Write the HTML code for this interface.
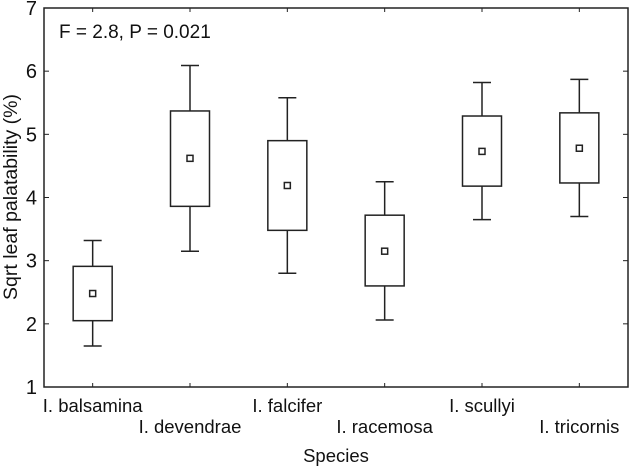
<!DOCTYPE html>
<html><head><meta charset="utf-8"><style>
html,body{margin:0;padding:0;background:#fff;}
svg{display:block;font-family:"Liberation Sans",Arial,sans-serif;}
</style></head><body>
<svg id="chart" width="630" height="467">
<rect x="0" y="0" width="630" height="467" fill="#fff"/>
<g id="plot"></g>
</svg>
<script>
const categories=["I. balsamina","I. devendrae","I. falcifer","I. racemosa","I. scullyi","I. tricornis"];
const whiskerLow=[1.65,3.15,2.80,2.06,3.65,3.70];
const whiskerHigh=[3.32,6.09,5.58,4.25,5.82,5.87];
const boxLow=[2.05,3.86,3.48,2.60,4.18,4.23];
const boxHigh=[2.91,5.37,4.90,3.72,5.29,5.34];
const means=[2.48,4.62,4.19,3.15,4.73,4.78];
const yTicks=[1,2,3,4,5,6,7];

const L=44,R=628,T=8,B=387,yMin=1,yMax=7;
const band=(R-L)/categories.length;
const x=i=>L+band*(i+0.5);
const y=v=>B-(v-yMin)/(yMax-yMin)*(B-T);
const NS="http://www.w3.org/2000/svg";
const g=document.getElementById('plot');
function mk(tag,attrs,parent){const e=document.createElementNS(NS,tag);for(const k in attrs)e.setAttribute(k,attrs[k]);(parent||g).appendChild(e);return e;}

const frame=mk('rect',{x:L,y:T,width:R-L,height:B-T,fill:'none',stroke:'#222','stroke-width':1.5});



yTicks.forEach(t=>{
  const yy=y(t);
  const a=mk('line',{x1:L,x2:L+5,y1:yy,y2:yy,stroke:'#222','stroke-width':1});
  
  
  const b=mk('line',{x1:R-5,x2:R,y1:yy,y2:yy,stroke:'#222','stroke-width':1});
  
  
  const tx=mk('text',{x:37,y:yy+7,'text-anchor':'end','font-size':20,fill:'#111'});
  tx.textContent=t;
  
  
});

categories.forEach((c,i)=>{
  const xx=x(i);
  const tb=mk('line',{x1:xx,x2:xx,y1:B-4,y2:B,stroke:'#222','stroke-width':1});
  
  
  const tt=mk('line',{x1:xx,x2:xx,y1:T,y2:T+4,stroke:'#222','stroke-width':1});
  
  
  const lab=mk('text',{x:xx,y:i%2===0?412:433,'text-anchor':'middle','font-size':18.5,fill:'#111'});
  lab.textContent=c;
  
  

  const w=mk('line',{x1:xx,x2:xx,y1:y(whiskerLow[i]),y2:y(whiskerHigh[i]),stroke:'#222','stroke-width':1.5});
  
  
  [whiskerLow[i],whiskerHigh[i]].forEach(v=>{
    const cp=mk('line',{x1:xx-9,x2:xx+9,y1:y(v),y2:y(v),stroke:'#222','stroke-width':1.5});
    
    
  });
  const bx=mk('rect',{x:xx-19.5,y:y(boxHigh[i]),width:39,height:y(boxLow[i])-y(boxHigh[i]),fill:'#fff',stroke:'#222','stroke-width':1.5});
  
  
  const m=mk('rect',{x:xx-3,y:y(means[i])-3,width:6,height:6,fill:'#fff',stroke:'#222','stroke-width':1.5});
  
  
});

const st=mk('text',{x:59,y:38,'font-size':19,fill:'#111'});
st.textContent='F = 2.8, P = 0.021';



const xt=mk('text',{x:336,y:462,'text-anchor':'middle','font-size':18.5,fill:'#111'});
xt.textContent='Species';



const yt=mk('text',{x:0,y:0,'text-anchor':'middle','font-size':19.5,fill:'#111',transform:'translate(17,197) rotate(-90)'});
yt.textContent='Sqrt leaf palatability (%)';


</script>
</body></html>
